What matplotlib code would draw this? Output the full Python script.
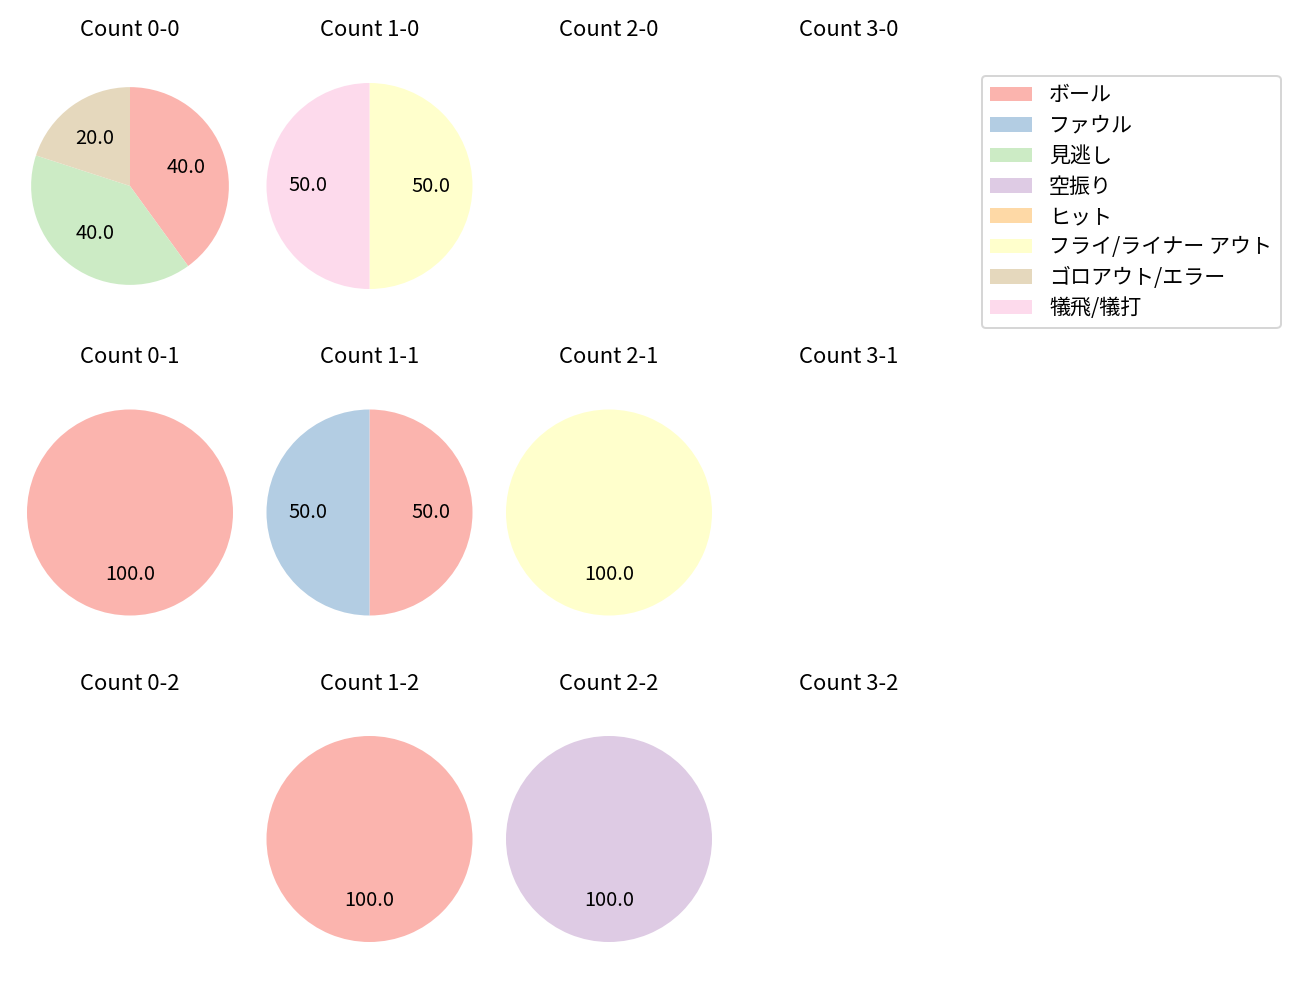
import matplotlib
matplotlib.use("Agg")
import matplotlib.pyplot as plt
from matplotlib.patches import Patch

plt.rcParams['font.family'] = ['Noto Sans CJK JP', 'DejaVu Sans']

# ======================== DATA ========================
categories = ['ボール', 'ファウル', '見逃し', '空振り', 'ヒット',
              'フライ/ライナー アウト', 'ゴロアウト/エラー', '犠飛/犠打']
colors = ['#fbb4ae', '#b3cde3', '#ccebc5', '#decbe4', '#fed9a6',
          '#ffffcc', '#e5d8bd', '#fddaec']

balls = [0, 1, 2, 3]
strikes = [0, 1, 2]

# counts per category for each ball-strike count (same order as categories)
count_0_0 = [2, 0, 2, 0, 0, 0, 1, 0]
count_1_0 = [0, 0, 0, 0, 0, 1, 0, 1]
count_2_0 = [0, 0, 0, 0, 0, 0, 0, 0]
count_3_0 = [0, 0, 0, 0, 0, 0, 0, 0]
count_0_1 = [1, 0, 0, 0, 0, 0, 0, 0]
count_1_1 = [1, 1, 0, 0, 0, 0, 0, 0]
count_2_1 = [0, 0, 0, 0, 0, 1, 0, 0]
count_3_1 = [0, 0, 0, 0, 0, 0, 0, 0]
count_0_2 = [0, 0, 0, 0, 0, 0, 0, 0]
count_1_2 = [1, 0, 0, 0, 0, 0, 0, 0]
count_2_2 = [0, 0, 0, 1, 0, 0, 0, 0]
count_3_2 = [0, 0, 0, 0, 0, 0, 0, 0]

data = {
    (0, 0): count_0_0, (1, 0): count_1_0, (2, 0): count_2_0, (3, 0): count_3_0,
    (0, 1): count_0_1, (1, 1): count_1_1, (2, 1): count_2_1, (3, 1): count_3_1,
    (0, 2): count_0_2, (1, 2): count_1_2, (2, 2): count_2_2, (3, 2): count_3_2,
}

# ======================== LAYOUT (pixels) ========================
W, H = 1300, 1000
DPI = 144
fig = plt.figure(figsize=(W / DPI, H / DPI), dpi=DPI)

col_cx = [130, 369.5, 609, 849]
row_cy = [186, 512.5, 839]
ax_w, ax_h = 230, 275
unit = 103  # pixels per pie radius

for s in strikes:
    for b in balls:
        cx, cy = col_cx[b], row_cy[s]
        ax = fig.add_axes([(cx - ax_w / 2) / W, 1 - (cy + ax_h / 2) / H,
                           ax_w / W, ax_h / H])
        vals = data[(b, s)]
        v = [x for x in vals if x > 0]
        c = [colors[i] for i, x in enumerate(vals) if x > 0]
        if v:
            r = 0.96 if (b, s) == (0, 0) else 1.0  # first pie drawn a bit smaller
            ax.pie(v, colors=c, autopct='%.1f', startangle=90, radius=r,
                   counterclock=False, textprops={'fontsize': 10})
        ax.set_aspect('auto')
        ax.set_xlim(-ax_w / 2 / unit, ax_w / 2 / unit)
        ax.set_ylim(-ax_h / 2 / unit, ax_h / 2 / unit)
        ax.axis('off')
        ax.set_title(f'Count {b}-{s}', fontsize=11)

handles = [Patch(facecolor=col, label=lab) for col, lab in zip(colors, categories)]
fig.legend(handles=handles, loc='upper left',
           bbox_to_anchor=(982 / W, 1 - 76 / H), borderaxespad=0,
           fontsize=10.5, labelspacing=0.4)

fig.savefig('out.png', dpi=DPI)
